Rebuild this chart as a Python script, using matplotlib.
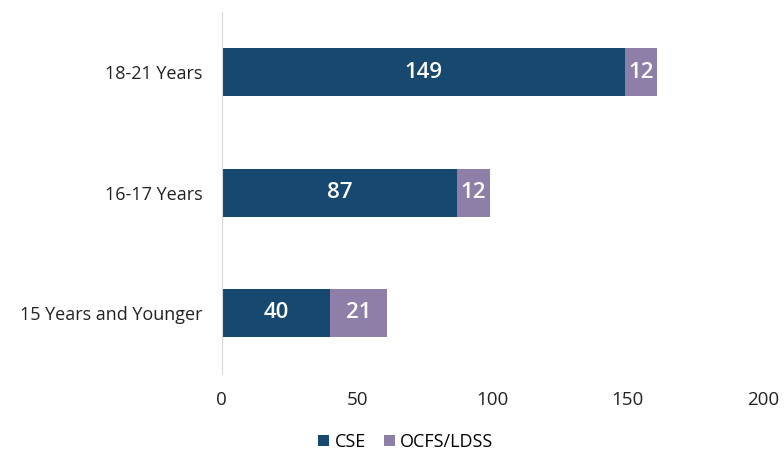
import numpy as np
import matplotlib.pyplot as plt

plt.rcParams['font.family'] = ['Open Sans', 'DejaVu Sans']

categories = ['15 Years and Younger', '16-17 Years', '18-21 Years']
cse = [40, 87, 149]
ocfs = [21, 12, 12]
series_names = ['CSE', 'OCFS/LDSS']
colors = ['#17486F', '#8D7FA8']

fig = plt.figure(figsize=(7.84, 4.5), dpi=100)
ax = fig.add_axes([0.283, 0.171, 0.690, 0.802])

y = np.arange(len(categories))
b1 = ax.barh(y, cse, height=0.4, color=colors[0], label=series_names[0])
b2 = ax.barh(y, ocfs, left=cse, height=0.4, color=colors[1], label=series_names[1])

for vals, lefts in [(cse, [0] * 3), (ocfs, cse)]:
    for yi, v, l in zip(y, vals, lefts):
        ax.text(l + v / 2, yi, str(v), ha='center', va='center',
                color='white', fontsize=16, fontweight='semibold')

ax.set_xlim(0, 200)
ax.set_ylim(-0.5, 2.5)
ax.set_xticks([0, 50, 100, 150, 200])
ax.set_yticks(y)
ax.set_yticklabels(categories, fontsize=13, color='#222222')
ax.tick_params(axis='x', labelsize=13.5, colors='#222222', length=0, pad=13)
ax.tick_params(axis='y', length=0, pad=14)
for s in ['top', 'right', 'bottom']:
    ax.spines[s].set_visible(False)
ax.spines['left'].set_color('#D9D9D9')

ax.legend(loc='upper center', bbox_to_anchor=(0.34, -0.12), ncol=2, frameon=False,
          fontsize=13, handlelength=0.6, handleheight=0.6, handletextpad=0.3,
          columnspacing=1.0)

fig.savefig('out.png', dpi=100)
